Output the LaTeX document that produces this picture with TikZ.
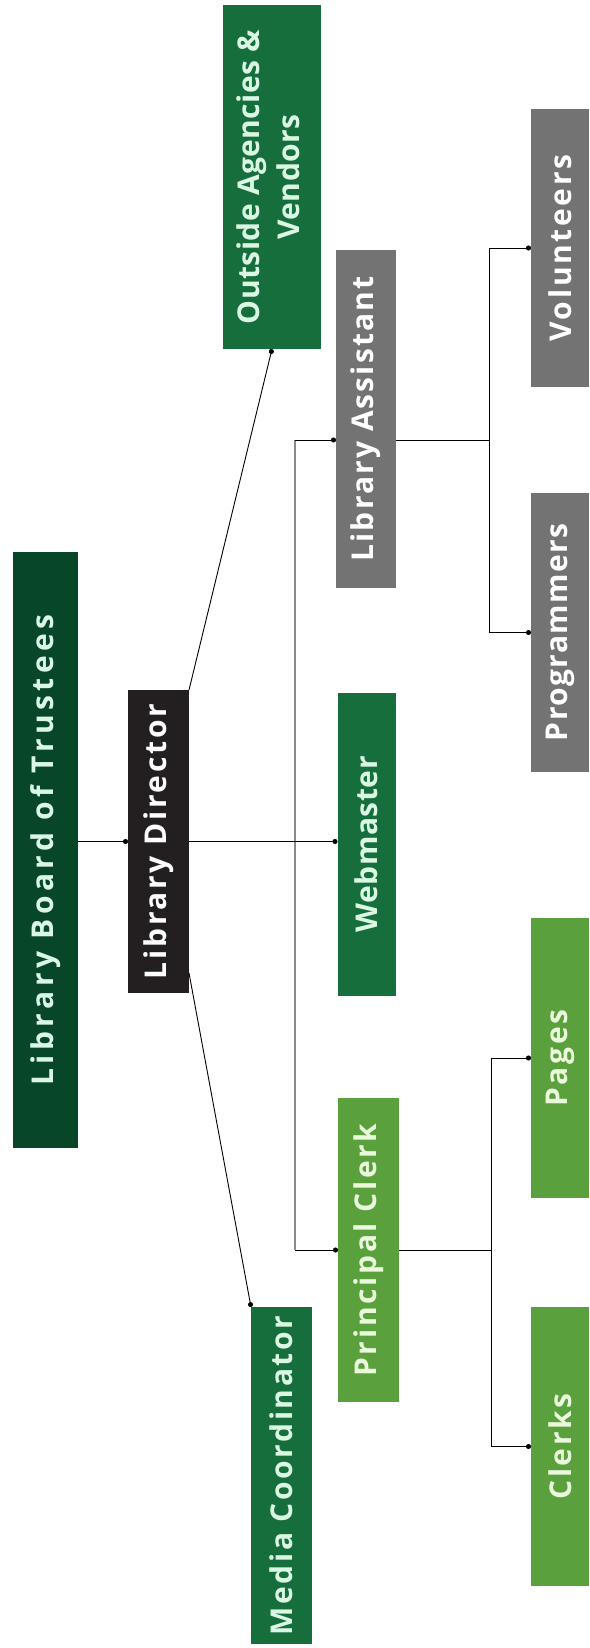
\documentclass[tikz,border=0pt]{standalone}
\usepackage{fontspec}
\setmainfont{Open Sans}
\usetikzlibrary{arrows.meta}
\definecolor{boardgreen}{HTML}{084628}
\definecolor{dirblack}{HTML}{231F20}
\definecolor{midgreen}{HTML}{156E3C}
\definecolor{lightgreen}{HTML}{5AA03C}
\definecolor{boxgray}{HTML}{737373}
\definecolor{minttext}{HTML}{D9F7E3}
\definecolor{palegtext}{HTML}{EAF8DC}
\definecolor{trunkgray}{HTML}{8A8A8A}
\newcommand{\bfnt}[1]{\fontsize{30}{38}\selectfont\bfseries\addfontfeature{LetterSpace=#1}}
\tikzset{
  box/.style={rectangle, inner sep=0pt, outer sep=0pt, font=\bfnt{8.7}},
  darkbox/.style={box, fill=boardgreen, text=minttext},
  blackbox/.style={box, fill=dirblack, text=white},
  greenbox/.style={box, fill=midgreen, text=minttext},
  lightbox/.style={box, fill=lightgreen, text=palegtext},
  graybox/.style={box, fill=boxgray, text=white},
  link/.style={draw=black, line width=0.9pt},
  dotlink/.style={link, -{Circle[length=5pt]}},
  trunk/.style={draw=trunkgray, line width=1.6pt}
}
\newcommand{\vt}[1]{\rotatebox{90}{#1}}
\begin{document}
\begin{tikzpicture}[x=1pt, y=-1pt]
\useasboundingbox (0,0) rectangle (589,1648);
% nodes
\node[darkbox, font=\bfnt{15}, minimum width=65pt, minimum height=596pt] (board) at (45.5,850) {\vt{Library Board of Trustees}};
\node[blackbox, font=\bfnt{9}, minimum width=61pt, minimum height=303pt] (director) at (158.5,841.5) {\vt{Library Director}};
\node[greenbox, font=\bfnt{1.5}, minimum width=98pt, minimum height=344pt] (outside) at (272,177) {\vt{\begin{tabular}{@{}c@{}}Outside Agencies \&\\[2pt]Vendors\end{tabular}}};
\node[greenbox, font=\bfnt{8.7}, minimum width=61pt, minimum height=337pt] (media) at (281.5,1475.5) {\vt{Media Coordinator}};
\node[graybox, font=\bfnt{7}, minimum width=60pt, minimum height=338pt] (assistant) at (366,419) {\vt{Library Assistant}};
\node[greenbox, font=\bfnt{2}, minimum width=58pt, minimum height=303pt] (webmaster) at (366.5,844.5) {\vt{Webmaster}};
\node[lightbox, font=\bfnt{9}, minimum width=61pt, minimum height=304pt] (principal) at (368.5,1250) {\vt{Principal Clerk}};
\node[graybox, font=\bfnt{9}, minimum width=58pt, minimum height=278pt] (volunteers) at (560,248) {\vt{Volunteers}};
\node[graybox, font=\bfnt{4.5}, minimum width=58pt, minimum height=279pt] (programmers) at (560,632.5) {\vt{Programmers}};
\node[lightbox, font=\bfnt{9}, minimum width=58pt, minimum height=280pt] (pages) at (560,1058) {\vt{Pages}};
\node[lightbox, font=\bfnt{8}, minimum width=58pt, minimum height=279pt] (clerks) at (560,1446.5) {\vt{Clerks}};
% junction coordinates
\coordinate (tla) at (295,440);
\coordinate (tpc) at (295,1250);
\coordinate (jla) at (489,440);
\coordinate (jpc) at (491,1250);
% connectors
\draw[trunk] (tla) -- (tpc);
\draw[dotlink] (director.west -| board.east) -- (director.west);
\draw[dotlink] (director.east) -- (director.east -| webmaster.west);
\draw[dotlink] (tla) -- (tla -| assistant.west);
\draw[dotlink] (tpc) -- (principal.west);
\draw[link] (tla -| assistant.east) -- (jla);
\draw[dotlink] (jla) |- (volunteers.west);
\draw[dotlink] (jla) |- (programmers.west);
\draw[link] (principal.east) -- (jpc);
\draw[dotlink] (jpc) |- (pages.west);
\draw[dotlink] (jpc) |- (clerks.west);
\draw[dotlink] (director.north east) -- (outside.south);
\draw[dotlink] ([yshift=20pt]director.south east) -- (media.north west);
\end{tikzpicture}
\end{document}
